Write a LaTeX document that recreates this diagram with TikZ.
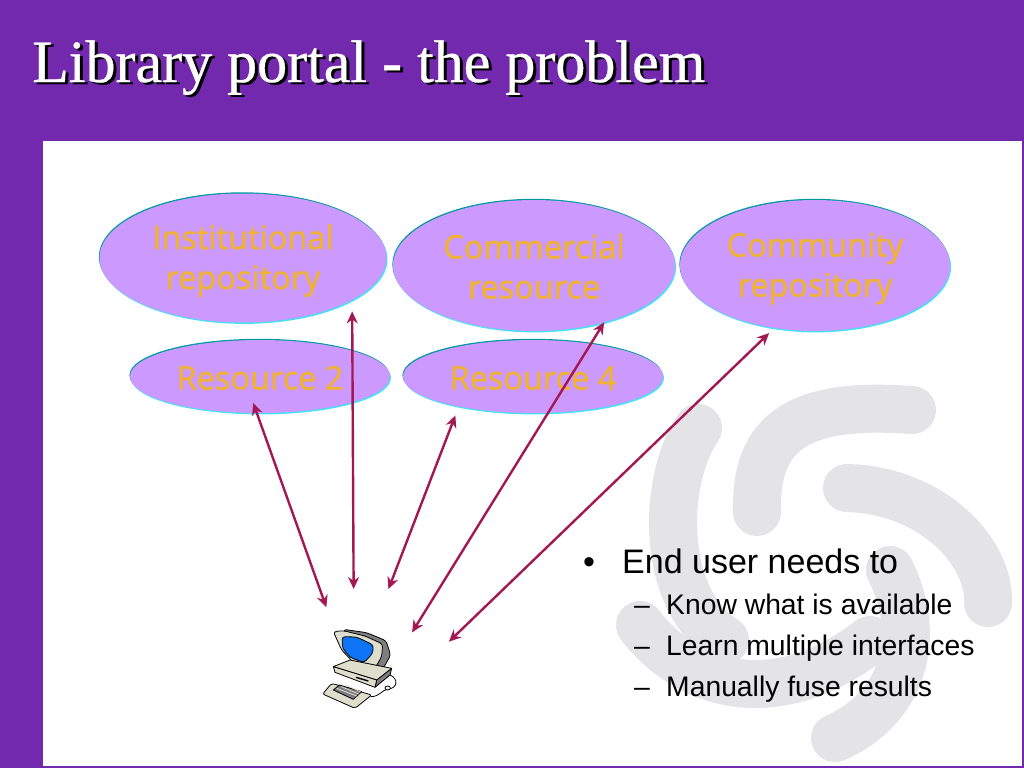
\documentclass[tikz,border=0pt]{standalone}
\usepackage{xcolor}
\usepackage{fontspec}
\setmainfont{Liberation Sans}
\newfontfamily\titlefont[FakeBold=0.6]{Liberation Serif}
\newfontfamily\bubblefont[FakeBold=1.2]{Open Sans}
\newcommand{\bubblestrut}{\rule[-4pt]{0pt}{34pt}}
\definecolor{slidepurple}{RGB}{115, 41, 174}
\definecolor{bubblefill}{RGB}{204, 153, 255}
\definecolor{bubbleedge}{RGB}{0, 153, 160}
\definecolor{bubbleglow}{RGB}{70, 225, 245}
\definecolor{bubbletext}{RGB}{240, 178, 50}
\definecolor{arrowred}{RGB}{163, 24, 82}
\definecolor{swirlgrey}{RGB}{228, 228, 230}
\definecolor{pcbeige}{RGB}{222, 222, 205}
\definecolor{pcgrey}{RGB}{125, 125, 130}
\definecolor{pcblue}{RGB}{15, 115, 245}
\usetikzlibrary{shapes.geometric, arrows.meta, shadows}

\begin{document}
\begin{tikzpicture}[
    x=1pt, y=-1pt,
    bubble/.style={ellipse, fill=bubblefill, inner sep=0pt, outer sep=0pt, align=center, text=bubbletext,
        font=\bubblefont\fontsize{32.5}{40}\selectfont,
        general shadow={fill=bubbleglow, shadow xshift=1pt, shadow yshift=-1.4pt},
        general shadow={fill=bubbleedge, shadow xshift=-0.6pt, shadow yshift=1.2pt}},
    arrow/.style={{Stealth[length=12pt,width=11pt]}-{Stealth[length=12pt,width=11pt]}, line width=2.4pt, arrowred},
    swirl/.style={swirlgrey, line width=48pt, line cap=round},
    headline/.style={anchor=base west, inner sep=0pt, font=\titlefont\fontsize{60}{66}\selectfont},
    mainitem/.style={anchor=base west, inner sep=0pt, font=\fontsize{34}{40}\selectfont},
    subitem/.style={anchor=base west, inner sep=0pt, font=\fontsize{28.3}{34}\selectfont},
    pcline/.style={draw=black, line width=0.8pt, line join=round}
]
    \path[use as bounding box, fill=slidepurple] (0,0) rectangle (1024,768);
    \fill[white] (43,141) rectangle (1022,766);

    % background swirl
    \draw[swirl] (698,428) .. controls (662,480) and (660,600) .. (725,640);
    \draw[swirl] (912,410) .. controls (800,402) and (755,430) .. (757,512);
    \draw[swirl] (847,488) .. controls (930,490) and (990,550) .. (988,603);
    \draw[swirl] (640,625) .. controls (690,690) and (780,710) .. (870,640);
    \draw[swirl] (835,738) .. controls (900,710) and (925,640) .. (890,570);

    \node[headline, black] (titleback) at (35,84) {Library portal - the problem};
    \node[headline, white] (title) at (32,82) {Library portal - the problem};

    \node[bubble, minimum width=287pt, minimum height=129pt] (inst) at (243,258) {\bubblestrut Institutional\\\bubblestrut repository};
    \node[bubble, minimum width=282pt, minimum height=131pt] (comm) at (534,265.5) {\bubblestrut Commercial\\\bubblestrut resource};
    \node[bubble, minimum width=270pt, minimum height=131pt] (cmty) at (815,265.5) {\bubblestrut Community\\\bubblestrut repository};
    \node[bubble, minimum width=260pt, minimum height=73pt] (res2) at (260,376.5) {\bubblestrut Resource 2};
    \node[bubble, minimum width=260pt, minimum height=73pt] (res4) at (533,376.5) {\bubblestrut Resource 4};

    \node[inner sep=0pt, outer sep=0pt, minimum width=78pt, minimum height=84pt] (pc) at (359,670) {};

    % computer
    \begin{scope}[shift={(300,600)}, x=0.3333pt, y=-0.3333pt]
        \draw[pcline, fill=pcgrey, rounded corners=3pt] (130,88) -- (200,98) -- (258,122) -- (272,165) -- (250,205) -- (225,207) -- (160,188) -- cycle;
        \draw[pcline, fill=pcbeige, rounded corners=3pt] (100,95) -- (130,92) -- (195,108) -- (248,132) -- (245,170) -- (225,205) -- (160,187) -- (125,150) -- cycle;
        \draw[pcline, fill=pcblue, rounded corners=3pt] (126,110) -- (170,111) -- (220,135) -- (218,160) -- (192,188) -- (150,172) -- (128,145) -- cycle;
        \draw[pcline, fill=pcgrey] (230,240) -- (275,205) -- (270,225) -- (225,262) -- cycle;
        \draw[pcline, fill=pcbeige] (100,200) -- (150,180) -- (275,205) -- (230,240) -- cycle;
        \draw[pcline, fill=pcbeige] (100,200) -- (230,240) -- (225,262) -- (105,217) -- cycle;
        \draw[pcline, line width=1.4pt] (168,232) -- (205,243);
        \draw[pcline] (270,225) .. controls (295,235) and (295,265) .. (262,268) .. controls (245,270) and (240,290) .. (212,290);
        \draw[pcline, fill=white] (263,264) ellipse (8 and 6);
        \draw[pcline, fill=pcbeige, rounded corners=2pt] (68,282) -- (95,250) -- (215,285) -- (165,325) -- cycle;
        \draw[pcline, fill=pcgrey] (100,270) -- (118,255) -- (185,275) -- (160,298) -- cycle;
        \foreach \k in {0,1,2} {
            \draw[pcbeige, line width=0.8pt] (110+\k*14,265-\k*5) -- (170+\k*6,288-\k*6);
        }
    \end{scope}

    \draw[arrow, shorten <=22pt, shorten >=-10.6pt] (pc.121) -- (res2.-95);
    \draw[arrow, shorten <=39pt, shorten >=11.5pt] (pc.97) -- (inst.-21);
    \draw[arrow, shorten <=41.6pt, shorten >=9.6pt] (pc.71) -- (res4.-158.6);
    \draw[arrow, shorten <=26.6pt] (pc.21.5) -- (comm.-39.2);
    \draw[arrow, shorten <=70.7pt, shorten >=7.4pt] (pc.-28.3) -- (cmty.-123.6);

    \node[mainitem] (mainbullet) at (583,573) {•};
    \node[mainitem] (main) at (622,573) {End user needs to};
    \node[subitem] (dashone) at (634,614) {–};
    \node[subitem] (know) at (666,614) {Know what is available};
    \node[subitem] (dashtwo) at (634,655) {–};
    \node[subitem] (learn) at (666,655) {Learn multiple interfaces};
    \node[subitem] (dashthree) at (634,696) {–};
    \node[subitem] (fuse) at (666,696) {Manually fuse results};
\end{tikzpicture}
\end{document}
